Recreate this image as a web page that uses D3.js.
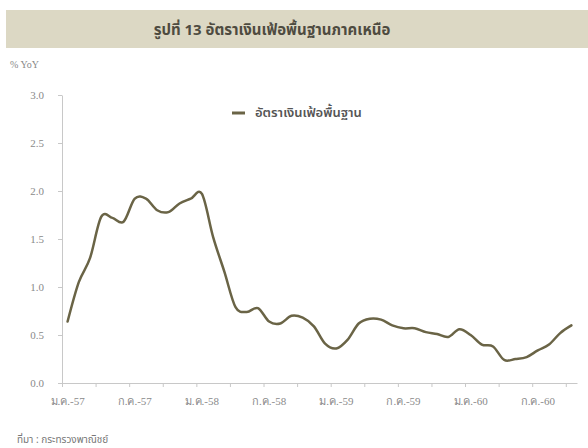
<!DOCTYPE html>
<html>
<head>
<meta charset="utf-8">
<script src="https://cdn.jsdelivr.net/npm/d3@7"></script>
<style>
  html, body { margin: 0; padding: 0; background: #ffffff; }
  svg { display: block; }
</style>
</head>
<body>
<svg id="chart" width="588" height="448"></svg>
<script>
// ---- data ----
const titleText = "รูปที่ 13 อัตราเงินเฟ้อพื้นฐานภาคเหนือ";
const unitText = "% YoY";
const sourceText = "ที่มา : กระทรวงพาณิชย์";
const seriesName = "อัตราเงินเฟ้อพื้นฐาน";
const years = ["57", "58", "59", "60"];
const monthNames = ["ม.ค.", "ก.พ.", "มี.ค.", "เม.ย.", "พ.ค.", "มิ.ย.", "ก.ค.", "ส.ค.", "ก.ย.", "ต.ค.", "พ.ย.", "ธ.ค."];
const coreInflation = [
  0.64, 1.05, 1.30, 1.73, 1.72, 1.68, 1.92, 1.92, 1.80, 1.78, 1.87, 1.92,
  1.97, 1.52, 1.16, 0.79, 0.74, 0.78, 0.64, 0.62, 0.70, 0.68, 0.59, 0.41,
  0.36, 0.45, 0.62, 0.67, 0.66, 0.60, 0.57, 0.57, 0.53, 0.51, 0.48, 0.56,
  0.50, 0.40, 0.38, 0.24, 0.25, 0.27, 0.34, 0.40, 0.52, 0.60
];
const yTicks = [0, 0.5, 1.0, 1.5, 2.0, 2.5, 3.0];

const categories = [];
years.forEach(yr => monthNames.forEach(m => categories.push(m + "-" + yr)));
const cats = categories.slice(0, coreInflation.length);
const labelCats = cats.filter((c, i) => i % 6 === 0);

// ---- layout ----
const svg = d3.select("#chart");
const plotLeft = 62, plotRight = 577, plotTop = 95, plotBottom = 383;
const thaiFont = "'Noto Sans Thai', 'Noto Sans Thai UI', 'Loma', 'Garuda', 'Noto Sans', sans-serif";
const numFont = "'Liberation Serif', 'DejaVu Serif', serif";

// title band
svg.append("rect").attr("x", 6).attr("y", 10).attr("width", 582).attr("height", 38)
  .attr("fill", "#dcd8c4");
svg.append("text").attr("x", 272).attr("y", 35).attr("text-anchor", "middle")
  .attr("font-family", thaiFont).attr("font-size", 15).attr("font-weight", "bold")
  .attr("fill", "#4e4b40").text(titleText);

svg.append("text").attr("x", 10).attr("y", 68)
  .attr("font-family", numFont).attr("font-size", 10).attr("fill", "#888")
  .text(unitText);

const x = d3.scaleBand().domain(cats).range([plotLeft, plotRight]).padding(0);
const xi = d3.scaleLinear().domain([0, cats.length]).range([plotLeft, plotRight]);
const y = d3.scaleLinear().domain([0, 3]).range([plotBottom, plotTop]);

// y axis
const yAxis = svg.append("g").attr("transform", `translate(${plotLeft},0)`)
  .call(d3.axisLeft(y).tickValues(yTicks).tickFormat(d3.format(".1f")).tickSize(4).tickSizeOuter(0).tickPadding(14));
yAxis.select(".domain").attr("stroke", "#c8c8c8");
yAxis.selectAll(".tick line").attr("stroke", "#c8c8c8");
yAxis.selectAll(".tick text").attr("font-family", numFont).attr("font-size", 11).attr("fill", "#8a8a8a");

// x axis tick marks (every 3 categories, at boundaries)
const xTickIdx = d3.range(0, cats.length + 1, 3);
const xMarks = svg.append("g").attr("transform", `translate(0,${plotBottom})`)
  .call(d3.axisBottom(xi).tickValues(xTickIdx).tickFormat("").tickSize(4).tickSizeOuter(0));
xMarks.select(".domain").attr("stroke", "#c8c8c8");
xMarks.selectAll(".tick line").attr("stroke", "#c8c8c8");

// x labels
const xLabels = svg.append("g").attr("transform", `translate(0,${plotBottom})`)
  .call(d3.axisBottom(x).tickValues(labelCats).tickSize(0).tickPadding(14));
xLabels.select(".domain").remove();
xLabels.selectAll(".tick text").attr("font-family", numFont).attr("font-size", 11).attr("fill", "#8a8a8a");

// line
const line = d3.line()
  .x((d, i) => x(cats[i]) + x.bandwidth() / 2)
  .y(d => y(d))
  .curve(d3.curveCatmullRom.alpha(0));
svg.append("path").datum(coreInflation)
  .attr("d", line).attr("fill", "none")
  .attr("stroke", "#6a6446").attr("stroke-width", 2.5)
  .attr("stroke-linejoin", "round").attr("stroke-linecap", "round");

// legend
svg.append("line").attr("x1", 232).attr("x2", 245).attr("y1", 113).attr("y2", 113)
  .attr("stroke", "#6a6446").attr("stroke-width", 3);
svg.append("text").attr("x", 255).attr("y", 117)
  .attr("font-family", thaiFont).attr("font-size", 13).attr("font-weight", 600)
  .attr("fill", "#555").text(seriesName);

// source
svg.append("text").attr("x", 17).attr("y", 443)
  .attr("font-family", thaiFont).attr("font-size", 10).attr("fill", "#777")
  .text(sourceText);
</script>
</body>
</html>
